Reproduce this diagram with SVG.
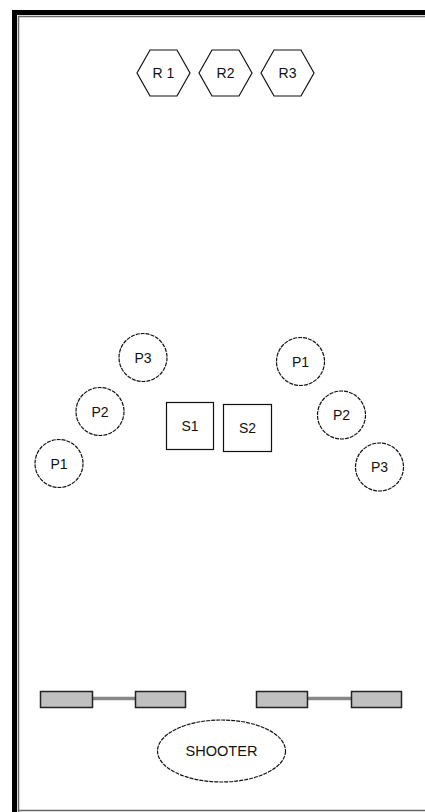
<svg xmlns="http://www.w3.org/2000/svg" width="425" height="812" viewBox="0 0 425 812">
<style>
.lbl{font-family:"Liberation Sans",Arial,sans-serif;font-size:14px;fill:#111;text-anchor:middle}
.sm{font-size:14px}
.hex,.pos,.sq,.sh{fill:#fff;stroke:#111;stroke-width:1.2}
.pos,.sh{stroke-dasharray:4 1}
.bar{fill:#c0c0c0;stroke:#222;stroke-width:1.5}
.link{stroke:#888;stroke-width:3.5}
</style>
<rect width="425" height="812" fill="#fff"/>
<g id="frame" fill="none">
<path d="M14.5 812 V12.5 H430" stroke="#000" stroke-width="5"/>
<path d="M18.5 812 V16.5 H430" stroke="#666" stroke-width="1.5"/>
<path d="M18.5 810.5 H430" stroke="#666" stroke-width="1.5"/>
</g>
<g id="R1"><polygon class="hex" points="137,73 150,50 177,50 190,73 177,96 150,96"/><text class="lbl" x="163.5" y="78">R 1</text></g>
<g id="R2"><polygon class="hex" points="199,73 212,50 239,50 252,73 239,96 212,96"/><text class="lbl" x="225.5" y="78">R2</text></g>
<g id="R3"><polygon class="hex" points="261,73 274,50 301,50 314,73 301,96 274,96"/><text class="lbl" x="287.5" y="78">R3</text></g>
<g id="LP3"><circle class="pos" cx="143" cy="357.5" r="24"/><text class="lbl" x="143" y="362.5">P3</text></g>
<g id="LP2"><circle class="pos" cx="100" cy="411.5" r="24"/><text class="lbl" x="100" y="416.5">P2</text></g>
<g id="LP1"><circle class="pos" cx="59" cy="463.5" r="24"/><text class="lbl" x="59" y="468.5">P1</text></g>
<g id="S1"><rect class="sq" x="166.5" y="402.5" width="47" height="47"/><text class="lbl" x="190" y="431">S1</text></g>
<g id="S2"><rect class="sq" x="223.5" y="404.5" width="48" height="47"/><text class="lbl" x="247.5" y="433">S2</text></g>
<g id="RP1"><circle class="pos" cx="300.5" cy="361.5" r="24"/><text class="lbl" x="300.5" y="366.5">P1</text></g>
<g id="RP2"><circle class="pos" cx="341.5" cy="415" r="24"/><text class="lbl" x="341.5" y="420">P2</text></g>
<g id="RP3"><circle class="pos" cx="379.5" cy="467" r="24"/><text class="lbl" x="379.5" y="472">P3</text></g>
<g id="connectors">
<line class="link" x1="93" y1="698.5" x2="135" y2="698.5"/>
<line class="link" x1="308" y1="698.5" x2="351" y2="698.5"/>
</g>
<g id="B1"><rect class="bar" x="40.5" y="691.5" width="52" height="16"/></g>
<g id="B2"><rect class="bar" x="135.5" y="691.5" width="50" height="16"/></g>
<g id="B3"><rect class="bar" x="256.5" y="691.5" width="51" height="16"/></g>
<g id="B4"><rect class="bar" x="351.5" y="691.5" width="50" height="16"/></g>
<g id="SHOOTER"><ellipse class="sh" cx="221.5" cy="751" rx="64" ry="31"/><text class="lbl sm" x="221.5" y="755.5" textLength="72" lengthAdjust="spacingAndGlyphs">SHOOTER</text></g>
</svg>
